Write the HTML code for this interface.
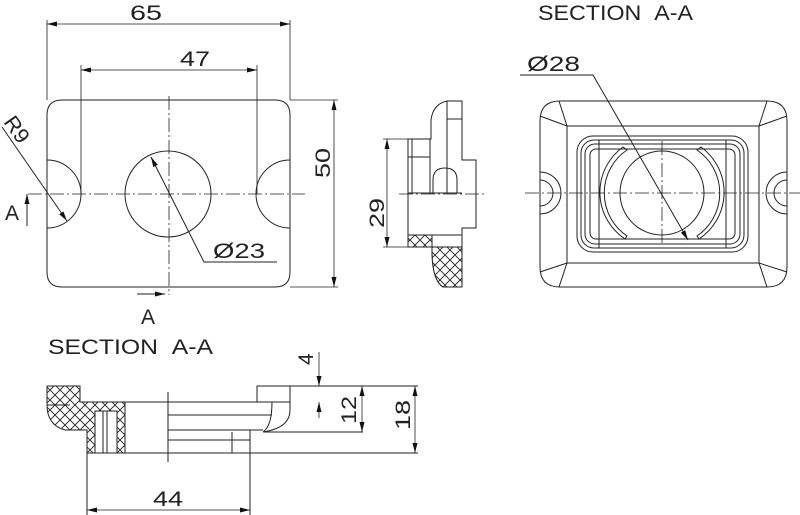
<!DOCTYPE html>
<html><head><meta charset="utf-8"><style>
html,body{margin:0;padding:0;background:#fff;}
svg{display:block;}
text{font-family:"Liberation Sans",sans-serif;fill:#222;font-weight:normal;}
</style></head><body>
<svg width="800" height="515" viewBox="0 0 800 515" xmlns="http://www.w3.org/2000/svg">
<defs>
<marker id="ar" viewBox="0 0 10 6" refX="10" refY="3" markerWidth="10" markerHeight="6" orient="auto-start-reverse" markerUnits="userSpaceOnUse"><path d="M0,0.5 L10,3 L0,5.5z" fill="#111"/></marker>
<pattern id="hx" width="10" height="10" patternUnits="userSpaceOnUse"><rect width="10" height="10" fill="#fff"/><path d="M0,0 L10,10 M10,0 L0,10" stroke="#222" stroke-width="0.9"/></pattern>
</defs>
<g fill="none" stroke="#222" stroke-width="1">
<path d="M62,100 H275 Q290,100 290,115 V272 Q290,287 275,287 H62 Q47,287 47,272 V115 Q47,100 62,100Z"/>
<path d="M47,160 A34,34 0 0 1 47,228"/>
<path d="M290,160 A34,34 0 0 0 290,228"/>
<circle cx="168" cy="194" r="43"/>
<path d="M28,194 H305" stroke-dasharray="14,3,2,3" stroke-width="0.8"/>
<path d="M169,96 V295" stroke-dasharray="14,3,2,3" stroke-width="0.8"/>
<path d="M47,20 V100 M290,20 V100 M81,65 V194 M257,65 V194" stroke-width="0.8"/>
<path d="M47,24 H290" marker-start="url(#ar)" marker-end="url(#ar)" stroke-width="0.8"/>
<path d="M81,70 H257" marker-start="url(#ar)" marker-end="url(#ar)" stroke-width="0.8"/>
<path d="M290,100 H338 M290,287 H338" stroke-width="0.8"/>
<path d="M334,100 V287" marker-start="url(#ar)" marker-end="url(#ar)" stroke-width="0.8"/>
<path d="M2,127 L67,221" marker-end="url(#ar)"/>
<path d="M151,157 L204,262 H277" marker-start="url(#ar)"/>
<path d="M27,226 V194" marker-end="url(#ar)"/>
<path d="M137,294 H165" marker-end="url(#ar)"/>
<path d="M447,101 H462 V160 H476 V228 H462 V287 H443 Q432,280 432,250 V247 H408 V139 H431 V120 Q433,104 447,101Z"/>
<path d="M408,235 H462 V247 H432 V250 Q432,280 443,287 H462 V235Z" fill="url(#hx)"/>
<path d="M408,235 H432 V247 H408Z" fill="url(#hx)"/>
<path d="M412,139 V193 M430,139 V193 M408,157 H430 M447,101 V193 M447,119 H462 M408,193 H462"/>
<path d="M433,193 V180 Q433,168 445,168 Q457,168 457,180 V193"/>
<path d="M399,194 H486" stroke-dasharray="14,3,2,3" stroke-width="0.8"/>
<path d="M383,139 H408 M383,247 H408" stroke-width="0.8"/>
<path d="M387,139 V247" marker-start="url(#ar)" marker-end="url(#ar)" stroke-width="0.8"/>
<path d="M560,101 H767 Q787,101 787,121 V267 Q787,287 767,287 H560 Q540,287 540,267 V121 Q540,101 560,101Z"/>
<rect x="567" y="126" width="192" height="137"/>
<path d="M559,101 L567,126 M540,116 L567,126 M767,101 L759,126 M787,116 L759,126 M559,287 L567,263 M540,272 L567,263 M767,287 L759,263 M787,272 L759,263"/>
<path d="M540,172 A21,21 0 0 1 540,214 M540,180 A13,13 0 0 1 540,206"/>
<path d="M787,172 A21,21 0 0 0 787,214 M787,180 A13,13 0 0 0 787,206"/>
<rect x="577" y="136" width="171" height="116" rx="16"/>
<rect x="581" y="140" width="163" height="108" rx="13"/>
<rect x="585" y="144" width="155" height="100" rx="10"/>
<rect x="590" y="149" width="145" height="90" rx="6"/>
<path d="M599,140 V248 M726,140 V248 M577,158 V230 M748,158 V230"/>
<circle cx="662" cy="193" r="42"/>
<path d="M627,150 A52,52 0 0 0 627,236 L625,239 A56,56 0 0 1 623,147Z"/>
<path d="M697,150 A52,52 0 0 1 697,236 L699,239 A56,56 0 0 0 701,147Z"/>
<path d="M525,193 H800" stroke-dasharray="14,3,2,3" stroke-width="0.8"/>
<path d="M662,141 V245" stroke-dasharray="14,3,2,3" stroke-width="0.8"/>
<path d="M520,75 H593 L688,240" marker-end="url(#ar)"/>
<path d="M47,386 H80 V402 H125 V453 H87 V430 H65 Q47,425 47,405Z" fill="url(#hx)"/>
<rect x="95" y="411" width="22" height="42" fill="#fff"/>
<path d="M103,411 V453 M107,411 V453 M47,405 H70"/>
<path d="M168,392 V462"/>
<path d="M125,402 H290 M168,415 H272 M168,430 H263 M168,440 H250 M232,432 V453 M250,430 V515 M87,453 H418 M87,453 V515"/>
<path d="M257,402 V386 H418 M290,386 V410 Q290,428 263,432 H363 M272,402 Q272,426 263,432"/>
<path d="M319,352 V386" marker-end="url(#ar)" stroke-width="0.8"/>
<path d="M319,418 V402" marker-end="url(#ar)" stroke-width="0.8"/>
<path d="M362,386 V432" marker-start="url(#ar)" marker-end="url(#ar)" stroke-width="0.8"/>
<path d="M415,386 V453" marker-start="url(#ar)" marker-end="url(#ar)" stroke-width="0.8"/>
<path d="M87,510 H250" marker-start="url(#ar)" marker-end="url(#ar)" stroke-width="0.8"/>
</g>
<g font-size="21">
<text x="130" y="20" textLength="32" lengthAdjust="spacingAndGlyphs">65</text>
<text x="180" y="66" textLength="30" lengthAdjust="spacingAndGlyphs">47</text>
<text x="213" y="258" textLength="52" lengthAdjust="spacingAndGlyphs">Ø23</text>
<text x="527" y="71" textLength="53" lengthAdjust="spacingAndGlyphs">Ø28</text>
<text x="5" y="220">A</text>
<text x="141" y="324">A</text>
<text x="153" y="506" textLength="30" lengthAdjust="spacingAndGlyphs">44</text>
<text transform="translate(330,178) rotate(-90)" textLength="30" lengthAdjust="spacingAndGlyphs">50</text>
<text transform="translate(384,228) rotate(-90)" textLength="30" lengthAdjust="spacingAndGlyphs">29</text>
<text transform="translate(313,365) rotate(-90)">4</text>
<text transform="translate(356,424) rotate(-90)" textLength="28" lengthAdjust="spacingAndGlyphs">12</text>
<text transform="translate(410,430) rotate(-90)" textLength="30" lengthAdjust="spacingAndGlyphs">18</text>
<text transform="translate(3,122) rotate(55)" textLength="28" lengthAdjust="spacingAndGlyphs">R9</text>
<text x="538" y="20" textLength="155" lengthAdjust="spacingAndGlyphs">SECTION&#160;&#160;A-A</text>
<text x="48" y="354" textLength="165" lengthAdjust="spacingAndGlyphs">SECTION&#160;&#160;A-A</text>
</g>
</svg>
</body></html>
